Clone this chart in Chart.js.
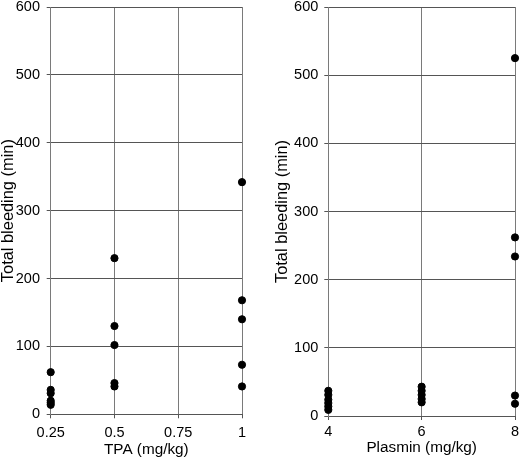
<!DOCTYPE html>
<html>
<head>
<meta charset="utf-8">
<script src="https://cdn.jsdelivr.net/npm/chart.js@4"></script>
<style>
  html, body { margin: 0; padding: 0; background: #fff; }
  .panel { position: absolute; top: 0; width: 260px; height: 459px; }
  #p1 { left: 0; }
  #p2 { left: 260px; }
</style>
</head>
<body>
<div class="panel" id="p1"><canvas id="c1"></canvas></div>
<div class="panel" id="p2"><canvas id="c2"></canvas></div>
<script>
// TPA panel
const tpaDose     = [0.25, 0.25, 0.25, 0.25, 0.25, 0.25, 0.5, 0.5, 0.5, 0.5, 0.5, 1, 1, 1, 1, 1];
const tpaBleeding = [62, 36, 31, 20, 17, 14, 230, 130, 102, 46, 41, 342, 168, 140, 73, 41];
const tpaTicks    = [0.25, 0.5, 0.75, 1];

// Plasmin panel
const plasminDose     = [4, 4, 4, 4, 4, 4, 6, 6, 6, 6, 6, 8, 8, 8, 8, 8];
const plasminBleeding = [37, 31, 24, 19, 14, 9, 43, 37, 31, 25, 20, 525, 262, 234, 30, 18];
const plasminTicks    = [4, 6, 8];

const yTicks = [0, 100, 200, 300, 400, 500, 600];
const yTitle = 'Total bleeding (min)';

const FAMILY = "'Liberation Sans', Arial, sans-serif";
const TICK_FONT = { family: FAMILY, size: 14.5 };
const XTITLE_FONT = { family: FAMILY, size: 15.3 };
const YTITLE_FONT = { family: FAMILY, size: 16.4, lineHeight: 1 };

function pts(xs, ys) { return xs.map((x, i) => ({ x: x, y: ys[i] })); }

function makeChart(id, xs, ys, xTicks, xTitle, cfg) {
  return new Chart(document.getElementById(id), {
    type: 'scatter',
    data: {
      datasets: [{
        data: pts(xs, ys),
        backgroundColor: '#000',
        borderColor: '#000',
        pointRadius: 3.6,
        pointHoverRadius: 3.6,
        clip: false
      }]
    },
    options: {
      responsive: true,
      maintainAspectRatio: false,
      animation: false,
      layout: { padding: { top: 7, left: cfg.padLeft, right: cfg.padRight, bottom: 0 } },
      plugins: { legend: { display: false }, tooltip: { enabled: false } },
      scales: {
        x: {
          type: 'linear',
          min: xTicks[0],
          max: xTicks[xTicks.length - 1],
          afterBuildTicks: s => { s.ticks = xTicks.map(v => ({ value: v })); },
          afterFit: s => { s.height = cfg.xHeight; s.paddingLeft = 0; s.paddingRight = 0; },
          ticks: {
            font: TICK_FONT, color: '#000', padding: cfg.xTickPad, maxRotation: 0,
            autoSkip: false,
            callback: v => String(v)
          },
          grid: { color: '#7a7a7a', lineWidth: 1, tickLength: 4, tickColor: '#555' },
          border: { color: '#555', width: 1 },
          title: { display: true, text: xTitle, font: XTITLE_FONT, color: '#000', padding: { top: 0, bottom: cfg.xTitlePad } }
        },
        y: {
          min: 0,
          max: 600,
          afterBuildTicks: s => { s.ticks = yTicks.map(v => ({ value: v })); },
          afterFit: s => { s.width = cfg.yWidth; s.paddingTop = 0; s.paddingBottom = 0; },
          ticks: { font: TICK_FONT, color: '#000', padding: cfg.yTickPad, autoSkip: false },
          grid: { color: '#555', lineWidth: 1, tickLength: 4, tickColor: '#555' },
          border: { color: '#7a7a7a', width: 1 },
          title: { display: true, text: yTitle, font: YTITLE_FONT, color: '#000', padding: { top: 0, bottom: 0 } }
        }
      }
    }
  });
}

makeChart('c1', tpaDose, tpaBleeding, tpaTicks, 'TPA (mg/kg)',
  { padLeft: 0, padRight: 18, yWidth: 50.7, yTickPad: 6.7, xHeight: 44.7, xTickPad: 5.5, xTitlePad: 0 });
makeChart('c2', plasminDose, plasminBleeding, plasminTicks, 'Plasmin (mg/kg)',
  { padLeft: 14, padRight: 5, yWidth: 54.3, yTickPad: 6, xHeight: 43, xTickPad: 3.5, xTitlePad: 2 });
</script>
</body>
</html>
